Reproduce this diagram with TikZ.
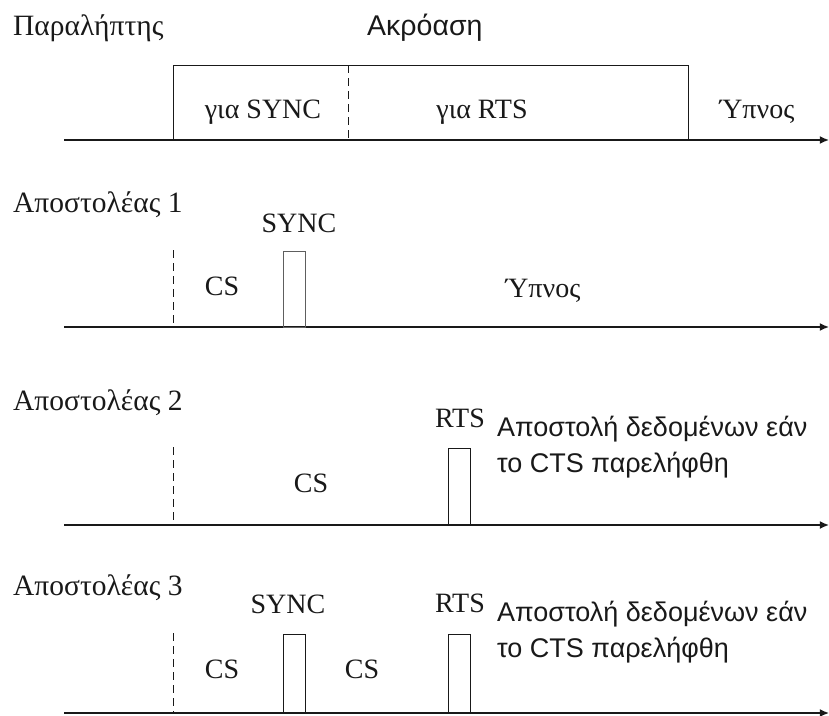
\documentclass[tikz,border=0pt]{standalone}
\usepackage{fontspec}
\setmainfont{Liberation Serif}
\newfontfamily\grsans{Liberation Sans}
\usetikzlibrary{arrows.meta,positioning}
\definecolor{ink}{RGB}{25,25,25}
\tikzset{
  lbl/.style={inner sep=0pt,anchor=base,text=ink,font=\fontsize{28}{30}\selectfont},
  who/.style={lbl,anchor=base west,font=\fontsize{29.5}{30}\selectfont},
  note/.style={inner sep=0pt,anchor=base west,text=ink,align=left,font=\grsans\fontsize{27}{35.5}\selectfont},
  axis/.style={-{Latex[length=3.2mm,width=2.8mm]},line width=1.5pt,draw=ink},
  slot/.style={draw=ink,line width=1pt},
  cut/.style={draw=ink,line width=1pt,dash pattern=on 8pt off 5pt},
  pulse/.style={draw=ink,line width=1pt,minimum width=22pt,minimum height=76pt,inner sep=0pt,outer sep=0pt,anchor=south west}
}
\begin{document}
\begin{tikzpicture}[x=1pt,y=-1pt]
\useasboundingbox (0,0) rectangle (829,715);
% receiver
\node[who] (rx) at (13,35) {Παραλήπτης};
\node[lbl,anchor=base west,font=\grsans\fontsize{28.5}{30}\selectfont] (listen) at (367,35) {Ακρόαση};
\coordinate (a0) at (64,140); \coordinate (a1) at (829,140);
\coordinate (w0) at (173,65); \coordinate (w1) at (688,140);
\coordinate (d0) at (348,65); \coordinate (d1) at (348,140);
\draw[slot] (w0) rectangle (w1);
\draw[cut] (d0) -- (d1);
\draw[axis] (a0) -- (a1);
\node[lbl] (forsync) at (263,118) {για SYNC};
\node[lbl] (forrts) at (482,118) {για RTS};
\node[lbl] (sleep0) at (757,118) {Ύπνος};
% sender 1
\node[who] (tx1) at (13,212) {Αποστολέας 1};
\coordinate (b0) at (64,327); \coordinate (b1) at (829,327);
\coordinate (e0) at (173,250); \coordinate (e1) at (173,327);
\draw[cut] (e0) -- (e1);
\draw[axis] (b0) -- (b1);
\node[pulse,draw=ink!70] (sync1) at (283,327) {};
\node[lbl] (sync1l) at (299,232) {SYNC};
\node[lbl] (cs1) at (222,295) {CS};
\node[lbl] (sleep1) at (543,297) {Ύπνος};
% sender 2
\node[who] (tx2) at (13,410) {Αποστολέας 2};
\coordinate (c0) at (64,525); \coordinate (c1) at (829,525);
\coordinate (f0) at (173,447); \coordinate (f1) at (173,525);
\draw[cut] (f0) -- (f1);
\draw[axis] (c0) -- (c1);
\node[pulse,minimum height=77pt] (rts2) at (448,525) {};
\node[lbl] (rts2l) at (460,427) {RTS};
\node[lbl] (cs2) at (311,492) {CS};
\node[note] (data2) at (497,472) {Αποστολή δεδομένων εάν\\το CTS παρελήφθη};
% sender 3
\node[who] (tx3) at (13,595) {Αποστολέας 3};
\coordinate (g0) at (64,713); \coordinate (g1) at (829,713);
\coordinate (h0) at (173,633); \coordinate (h1) at (173,713);
\draw[cut] (h0) -- (h1);
\draw[axis] (g0) -- (g1);
\node[pulse,minimum height=79pt] (sync3) at (283,713) {};
\node[pulse,minimum height=79pt] (rts3) at (448,713) {};
\node[lbl] (sync3l) at (288,613) {SYNC};
\node[lbl] (rts3l) at (460,612) {RTS};
\node[lbl] (cs3) at (222,678) {CS};
\node[lbl] (cs4) at (362,678) {CS};
\node[note] (data3) at (497,657) {Αποστολή δεδομένων εάν\\το CTS παρελήφθη};
\end{tikzpicture}
\end{document}
